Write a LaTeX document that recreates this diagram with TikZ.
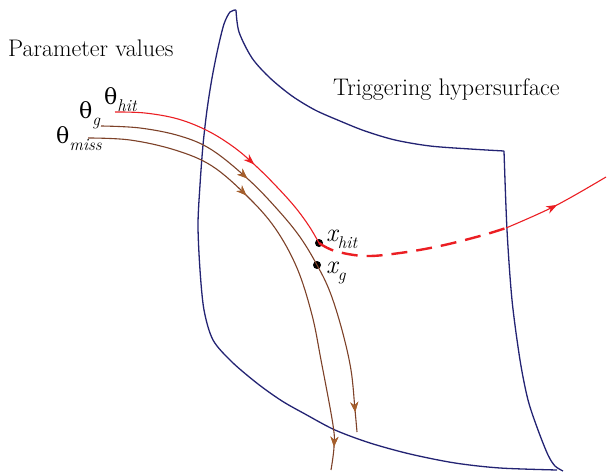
\documentclass[tikz,border=0pt]{standalone}
\usepackage{fontspec}
\newfontfamily\greekfont{DejaVu Serif}
\usepackage{xcolor}
\usetikzlibrary{positioning, arrows.meta, decorations.markings, calc}

\definecolor{surfblue}{RGB}{35,35,115}
\definecolor{hitred}{RGB}{235,30,35}
\definecolor{trajbrown}{RGB}{125,65,40}
\definecolor{tipbrown}{RGB}{165,95,45}

\newcommand{\sublbl}[2]{#1\raisebox{-0.28em}{\fontsize{17}{20}\selectfont\itshape #2}}

\begin{document}
\begin{tikzpicture}[x=1pt, y=-1pt,
  every node/.style={font=\fontsize{24}{30}\selectfont, inner sep=0pt},
  surface/.style={surfblue, line width=1.3pt, line join=round},
  traj/.style={trajbrown, line width=1.1pt},
  hittraj/.style={hitred, line width=1.1pt},
  midtip/.style={postaction={decorate}, decoration={markings,
      mark=at position #1 with {\arrow[tipbrown]{Stealth[length=10pt, width=8pt]}}}},
  redtip/.style={postaction={decorate}, decoration={markings,
      mark=at position #1 with {\arrow[hitred]{Stealth[length=11pt, width=8pt]}}}},
  hitdot/.style={circle, fill=black, minimum size=8pt}
]
  \useasboundingbox (0,0) rectangle (607,473);

  % labels
  \node[anchor=base west] (params) at (8,57) {Parameter values};
  \node[anchor=base west] (trig) at (333,96) {Triggering hypersurface};
  \node[anchor=base west] (thhit) at (104,105) {\sublbl{{\greekfont\fontsize{22}{26}\selectfont θ}}{hit}};
  \node[anchor=base west] (thg) at (79,119) {\sublbl{{\greekfont\fontsize{22}{26}\selectfont θ}}{g}};
  \node[anchor=base west] (thmiss) at (56,144) {\sublbl{{\greekfont\fontsize{22}{26}\selectfont θ}}{miss}};

  % hypersurface outline
  \draw[surface] plot[smooth, tension=0.5] coordinates {
    (236,10) (239,32) (252,58) (270,78) (292,96) (315,110) (340,121)
    (365,131) (395,140) (430,146) (470,149) (504,151)};
  \draw[surface] plot[smooth, tension=0.5] coordinates {
    (504,151) (507,230) (512,300) (520,360) (528,400) (538,430)
    (548,455) (555,466) (563,471)};
  \draw[surface] plot[smooth, tension=0.5] coordinates {
    (236,10) (230,12) (224,24) (218,48) (212,78) (207,110) (203,145)
    (200,185) (198,225) (200,270) (204,310) (213,340) (232,362)
    (258,384) (282,401) (305,414) (335,430) (370,443) (410,454)
    (455,463) (500,468) (557,470)};

  % intersection points
  \node[hitdot] (xhit) at (319,243) {};
  \node[hitdot] (xg) at (317,265) {};
  \node[anchor=base west, font=\fontsize{26}{30}\selectfont\itshape] (lblxhit) at (326,241) {\sublbl{x}{hit}};
  \node[anchor=base west, font=\fontsize{26}{30}\selectfont\itshape] (lblxg) at (326,273) {\sublbl{x}{g}};

  \coordinate (hitstart) at (115,112);
  \coordinate (gstart) at (101,126);
  \coordinate (missstart) at (88,138);
  \coordinate (gend) at (357,432);
  \coordinate (missend) at (331,470);
  \coordinate (cross) at (506,228);
  \coordinate (hitend) at (606,177);

  % trajectories
  \draw[hittraj, redtip=0.6] plot[smooth, tension=0.6] coordinates {
    (hitstart) (145,113) (178,119) (208,131) (235,148) (257,167)
    (277,187) (295,207) (309,226) (xhit.center)};
  \draw[traj, midtip=0.36, midtip=0.955] plot[smooth, tension=0.6] coordinates {
    (gstart) (140,128) (180,136) (212,150) (249,180) (278,210)
    (300,237) (xg.center) (330,292) (342,330) (351,370) (355,410) (gend)};
  \draw[traj, midtip=0.37, midtip=0.95] plot[smooth, tension=0.6] coordinates {
    (missstart) (130,140) (175,150) (212,166) (247,196) (275,228)
    (297,268) (312,315) (321,360) (333,425) (334,447) (missend)};
  \draw[hittraj, line width=2.4pt, dash pattern=on 16pt off 9pt] plot[smooth, tension=0.6] coordinates {
    (xhit.center) (335,251) (365,256) (400,253) (440,246) (480,236) (cross)};
  \draw[hittraj, redtip=0.5] plot[smooth, tension=0.6] coordinates {
    (cross) (555,206) (hitend)};
\end{tikzpicture}
\end{document}
